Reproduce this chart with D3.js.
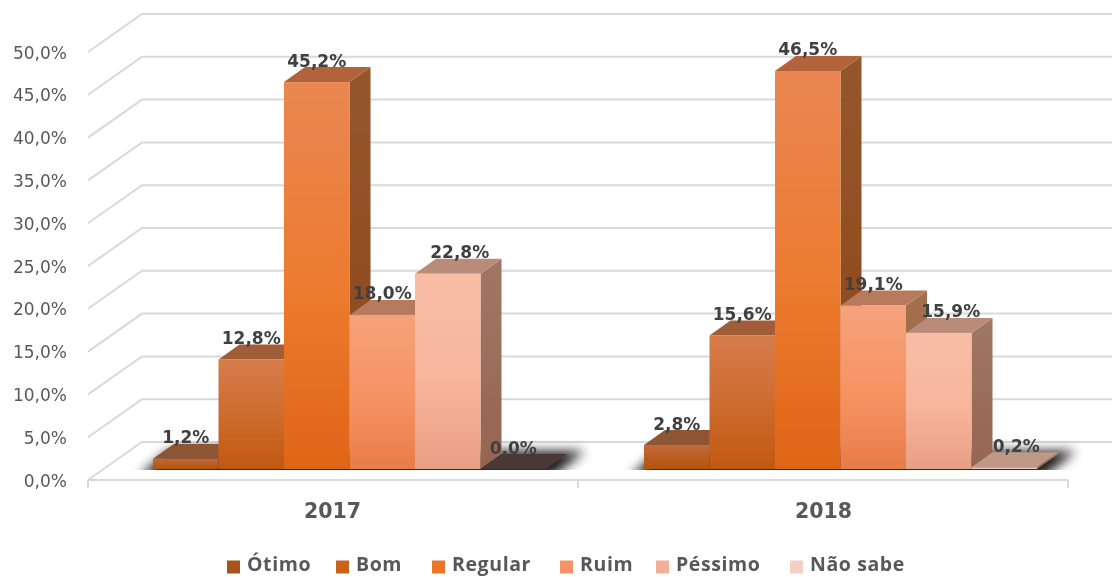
<!DOCTYPE html>
<html><head><meta charset="utf-8"><style>html,body{margin:0;padding:0;background:#fff;overflow:hidden}svg{display:block}</style>
<script src="https://cdn.jsdelivr.net/npm/d3@7"></script></head><body><svg id="c" width="1112" height="577"></svg>
<script>
const years = ["2017", "2018"];
const categories = ["Ótimo", "Bom", "Regular", "Ruim", "Péssimo", "Não sabe"];
const values2017 = [1.2, 12.8, 45.2, 18.0, 22.8, 0.0];
const values2018 = [2.8, 15.6, 46.5, 19.1, 15.9, 0.2];
const yTicks = [0, 5, 10, 15, 20, 25, 30, 35, 40, 45, 50];
const frontTop = ["#c06a3a", "#d67c4c", "#ea8752", "#f5a27c", "#f8bda5", "#f6cfc2"];
const frontMid = ["#b95c20", "#cd6a2c", "#ec7a2e", "#f79262", "#f7b59c", "#f3c8b8"];
const frontBottom = ["#b4540f", "#c05810", "#df6517", "#e87c4a", "#e89f84", "#f0c2b2"];
const topFace = ["#8e5536", "#a15b38", "#b3633a", "#b87a5c", "#b98c7a", "#bf9888"];
const sideTop = ["#7d4a2c", "#8f5230", "#94562d", "#a3704f", "#a07765", "#a58676"];
const sideBottom = ["#7a3f14", "#8a4315", "#8f4717", "#9a5f3f", "#956551", "#9a7766"];
const legendColors = ["#a9521b", "#c9631f", "#e8742a", "#f4936a", "#f2b09a", "#f5cfc4"];
const legendX = [227, 336, 432, 560, 656, 790];
const all = [values2017, values2018];

const fmt = v => v.toFixed(1).replace(".", ",") + "%";
const svg = d3.select("#c");
const defs = svg.append("defs");
const FONT = "'DejaVu Sans', sans-serif";

// 3-D projection
const dx = 54, dy = -38;               // wall depth
const barDx = 21, barDy = -15;         // bar depth
const floorFront = 480, barBase = 469;

const xGroup = d3.scaleBand().domain(years).range([88, 1070]);
const xBar = d3.scaleBand().domain(d3.range(categories.length)).range([0, 393]);
const barStart = y => xGroup(y) + 65;
const yBar = d3.scaleLinear().domain([0, 50]).range([barBase, barBase - 428]);
const yWall = d3.scaleLinear().domain([0, 50]).range([floorFront, floorFront - 428]);

// gradients
categories.forEach((c, i) => {
  const f = defs.append("linearGradient").attr("id", "f" + i).attr("x1", 0).attr("y1", 0).attr("x2", 0).attr("y2", 1);
  f.append("stop").attr("offset", 0).attr("stop-color", frontTop[i]);
  f.append("stop").attr("offset", 0.55).attr("stop-color", frontMid[i]);
  f.append("stop").attr("offset", 1).attr("stop-color", frontBottom[i]);
  const s = defs.append("linearGradient").attr("id", "s" + i).attr("x1", 0).attr("y1", 0).attr("x2", 0).attr("y2", 1);
  s.append("stop").attr("offset", 0).attr("stop-color", sideTop[i]);
  s.append("stop").attr("offset", 1).attr("stop-color", sideBottom[i]);
});
defs.append("filter").attr("id", "shadow").attr("filterUnits", "userSpaceOnUse")
  .attr("x", 0).attr("y", 380).attr("width", 1112).attr("height", 140)
  .append("feGaussianBlur").attr("stdDeviation", 6);
defs.append("filter").attr("id", "soft").attr("filterUnits", "userSpaceOnUse")
  .attr("x", 0).attr("y", 0).attr("width", 1112).attr("height", 577)
  .append("feGaussianBlur").attr("stdDeviation", 0.35);
defs.append("clipPath").attr("id", "aboveBase").append("rect")
  .attr("x", 0).attr("y", 0).attr("width", 1112).attr("height", barBase + 1);

const root = svg.append("g").attr("filter", "url(#soft)");

// gridlines
root.append("g").selectAll("path").data(yTicks).join("path")
  .attr("fill", "none").attr("stroke", "#d9d9d9").attr("stroke-width", 2)
  .attr("d", t => d3.line()([[88, yWall(t)], [88 + dx, yWall(t) + dy], [1122, yWall(t) + dy]]));

// floor front edge and ticks
const floor = root.append("g").attr("stroke", "#d9d9d9").attr("stroke-width", 2).attr("fill", "none");
floor.append("path").attr("d", d3.line()([[88, floorFront], [1068, floorFront]]));
floor.selectAll("line").data([88, 578, 1068]).join("line")
  .attr("x1", d => d).attr("x2", d => d).attr("y1", floorFront).attr("y2", floorFront + 8);

// y axis
const yAxis = root.append("g").attr("transform", "translate(67,0)")
  .call(d3.axisLeft(yWall).tickValues(yTicks).tickSize(0).tickFormat(fmt));
yAxis.select(".domain").remove();
yAxis.selectAll("text").attr("font-family", FONT).attr("font-size", 17).attr("fill", "#595959").attr("dy", "0.36em").attr("x", 0);

// bars
years.forEach((yr, g) => {
  const gr = root.append("g");
  const x0 = barStart(yr);
  gr.append("g").attr("clip-path", "url(#aboveBase)").append("path")
    .attr("fill", "#000").attr("opacity", 0.9).attr("filter", "url(#shadow)")
    .attr("d", d3.line()([[x0 - 14, barBase + 8], [x0 + 393 + 6, barBase + 8], [x0 + 393 + barDx + 18, barBase + barDy - 3], [x0 + barDx - 6, barBase + barDy - 3]]));
  all[g].forEach((v, i) => {
    const x = x0 + xBar(i), w = xBar.bandwidth(), y = yBar(v);
    const zero = v === 0;
    if (v > 0) gr.append("path").attr("fill", `url(#s${i})`)
      .attr("d", d3.line()([[x + w, y], [x + w + barDx, y + barDy], [x + w + barDx, barBase + barDy], [x + w, barBase]]));
    gr.append("path").attr("fill", zero ? "#4a3835" : topFace[i])
      .attr("d", d3.line()([[x, y], [x + barDx, y + barDy], [x + w + barDx, y + barDy], [x + w, y]]));
    if (v > 0) gr.append("rect").attr("x", x).attr("y", y).attr("width", w).attr("height", barBase - y).attr("fill", `url(#f${i})`);
  });
  all[g].forEach((v, i) => {
    const cx = x0 + xBar(i) + xBar.bandwidth() / 2;
    const shift = (i === 4 || (i === 5 && v > 0)) ? 12 : 0;
    gr.append("text").attr("x", cx + shift).attr("y", yBar(v) + barDy - 6.5)
      .attr("text-anchor", "middle").attr("dominant-baseline", "central")
      .attr("font-family", FONT).attr("font-weight", 700).attr("font-size", 17).attr("fill", "#404040").text(fmt(v));
  });
});

// category labels
root.append("g").selectAll("text").data(years).join("text")
  .attr("x", d => xGroup(d) + xGroup.bandwidth() / 2 - 1).attr("y", 518).attr("text-anchor", "middle")
  .attr("font-family", FONT).attr("font-weight", 700).attr("font-size", 20.5).attr("fill", "#595959").text(d => d);

// legend
const leg = root.append("g").selectAll("g").data(categories).join("g").attr("transform", (d, i) => `translate(${legendX[i]},0)`);
leg.append("rect").attr("y", 560.5).attr("width", 13).attr("height", 13).attr("fill", (d, i) => legendColors[i]);
leg.append("text").attr("x", 20).attr("y", 571).attr("letter-spacing", 0.6)
  .attr("font-family", "'Open Sans', sans-serif").attr("font-weight", 700).attr("font-size", 19.5).attr("fill", "#595959").text(d => d);
</script></body></html>
